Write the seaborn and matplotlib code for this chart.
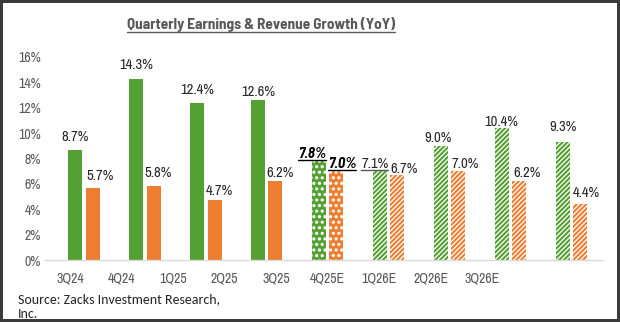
import matplotlib
matplotlib.use("Agg")
import matplotlib.pyplot as plt
import seaborn as sns
import pandas as pd
from matplotlib import font_manager
from matplotlib.lines import Line2D
from matplotlib.patches import Rectangle

# ---- data ----
quarters = ["3Q24", "4Q24", "1Q25", "2Q25", "3Q25", "4Q25E", "1Q26E", "2Q26E", "3Q26E"]
earnings = [8.7, 14.3, 12.4, 12.6, 7.8, 7.1, 9.0, 10.4, 9.3]
revenue = [5.7, 5.8, 4.7, 6.2, 7.0, 6.7, 7.0, 6.2, 4.4]
status = ["actual", "actual", "actual", "actual", "current",
          "estimate", "estimate", "estimate", "estimate"]
y_ticks = [0, 2, 4, 6, 8, 10, 12, 14, 16]
title = "Quarterly Earnings & Revenue Growth (YoY)"
source = "Source: Zacks Investment Research,\nInc."

# ---- label nudges (pixels) ----
earn_dx = [0, 0, 0, 0, -7, -5, -3, 0, 0]
earn_dy = [9, 10, 9, 4, 3, 2, 4, 2, 11]
rev_dx = [7.5, 4, 5, 5, 5.5, 6.5, 6.5, 7.5, 6]
rev_dy = [8, 9, 5, 4, 3, 2, 3, 4, 7]

GREEN = "#55A032"
ORANGE = "#ED7D31"
GRAY = "#595959"
TXT = "#262626"

sns.set_theme(style="white")


def _w(f):
    w = f.weight
    if isinstance(w, str):
        w = font_manager.weight_dict.get(w, 400)
    return w


entries = font_manager.fontManager.ttflist
names = {f.name for f in entries}
bold_names = {f.name for f in entries if _w(f) >= 600}


def pick(cands, pool):
    for c in cands:
        if c in pool:
            return c
    return "Liberation Sans"


narrow = pick(["Liberation Sans Narrow", "Arial Narrow", "Archivo Narrow",
               "Barlow Semi Condensed"], names)
narrow_bold = pick(["Liberation Sans Narrow", "Arial Narrow", "Barlow Semi Condensed",
                    "Asap Condensed"], bold_names)
body = pick(["Carlito", "Liberation Sans Narrow", "Archivo Narrow", "Barlow Semi Condensed"], names)

plt.rcParams["font.family"] = [narrow, "DejaVu Sans"]
plt.rcParams["hatch.linewidth"] = 1.5

df = pd.DataFrame({
    "quarter": quarters * 2,
    "growth": earnings + revenue,
    "series": ["Earnings"] * len(quarters) + ["Revenue"] * len(quarters),
})

W, H, DPI = 620, 322, 100
fig = plt.figure(figsize=(W / DPI, H / DPI), dpi=DPI)
fig.patch.set_facecolor("white")
ax = fig.add_axes([45 / W, 62 / H, 558 / W, 203 / H])

sns.barplot(data=df, x="quarter", y="growth", hue="series", order=quarters,
            hue_order=["Earnings", "Revenue"], palette=[GREEN, ORANGE],
            width=0.574, gap=0.2, saturation=1, legend=False, ax=ax, errorbar=None)

for cont, color in zip(ax.containers, [GREEN, ORANGE]):
    for bar, st in zip(cont, status):
        bar.set_linewidth(0)
        if st == "current":
            bar.set_facecolor(color)
            bar.set_edgecolor("white")
            bar.set_hatch("...")
        elif st == "estimate":
            bar.set_facecolor("white")
            bar.set_edgecolor(color)
            bar.set_hatch("///////")

ax.set_xlim(-0.64, 8.52)
ax.set_ylim(0, 16)
ax.set_yticks(y_ticks, [f"{v}%" for v in y_ticks])
ax.set_xticks([])
ax.set_xlabel("")
ax.set_ylabel("")
ax.tick_params(axis="y", length=0, pad=3, labelsize=10, labelcolor=GRAY)
for s in ["top", "left", "right"]:
    ax.spines[s].set_visible(False)
ax.spines["bottom"].set_color("#D9D9D9")
ax.spines["bottom"].set_linewidth(1)

# category labels axis
axl = ax.twiny()
axl.set_xlim(-0.485, 10.34)
axl.xaxis.set_ticks_position("bottom")
axl.set_xticks(range(len(quarters)), quarters)
axl.tick_params(axis="x", length=0, pad=8, labelsize=10, labelcolor=GRAY)
for s in axl.spines.values():
    s.set_visible(False)

underline_items = []
px2pt = 72 / DPI
for cont, vals, dxs, dys in [(ax.containers[0], earnings, earn_dx, earn_dy),
                             (ax.containers[1], revenue, rev_dx, rev_dy)]:
    for bar, v, st, dx, dy in zip(cont, vals, status, dxs, dys):
        cx = bar.get_x() + bar.get_width() / 2
        kw = dict(color=TXT, fontsize=10.5)
        if st == "current":
            kw.update(weight="bold", style="italic", color="black",
                      family=[narrow_bold, "DejaVu Sans"])
        t = ax.annotate(f"{v:.1f}%", xy=(cx, bar.get_height()),
                        xytext=(dx * px2pt, dy * px2pt), textcoords="offset points",
                        ha="center", va="baseline", **kw)
        if st == "current":
            underline_items.append((t, "black"))
        elif st == "estimate" and vals is earnings and v == 7.1:
            underline_items.append((t, GRAY))

tt = fig.text(261 / W, 1 - 25 / H, title, ha="center", va="center",
              fontsize=11, weight="bold", color=GRAY,
              family=[narrow_bold, "DejaVu Sans"])
underline_items.append((tt, GRAY))

fig.text(18 / W, 1 - 293 / H, source, ha="left", va="top", fontsize=10,
         color=TXT, linespacing=1.25, family=[body, "DejaVu Sans"])

fig.canvas.draw()
r = fig.canvas.get_renderer()
for t, c in underline_items:
    bb = t.get_window_extent(r)
    y = bb.y0 + 1
    fig.add_artist(Line2D([bb.x0 / W, bb.x1 / W], [y / H, y / H],
                          transform=fig.transFigure, color=c, linewidth=1.0))

fig.add_artist(Rectangle((0, 0), 1, 1, transform=fig.transFigure, fill=False,
                         edgecolor="#3A3A3A", linewidth=4.3, zorder=100))

fig.savefig("out.png", dpi=DPI, facecolor="white")
